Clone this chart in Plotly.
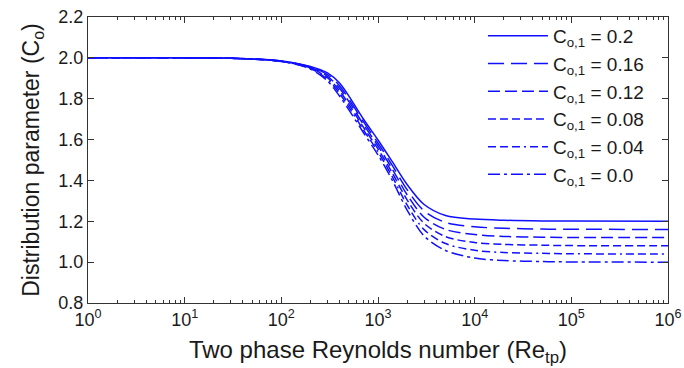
import plotly.graph_objects as go

# Two-phase Reynolds number sample points
re_tp = [1, 10, 30, 100, 200, 300, 400, 500, 700, 1000, 1400, 2000, 3000,
         5000, 10000, 20000, 50000, 100000, 1000000]

# Distribution parameter curves
co_020 = [2.000, 2.000, 1.998, 1.985, 1.958, 1.926, 1.877, 1.813, 1.703, 1.598,
          1.493, 1.380, 1.282, 1.228, 1.211, 1.205, 1.202, 1.201, 1.200]
co_016 = [2.000, 2.000, 1.998, 1.984, 1.955, 1.918, 1.864, 1.799, 1.690, 1.583,
          1.475, 1.355, 1.251, 1.194, 1.173, 1.166, 1.162, 1.161, 1.160]
co_012 = [2.000, 2.000, 1.998, 1.984, 1.953, 1.910, 1.851, 1.786, 1.677, 1.569,
          1.457, 1.330, 1.220, 1.160, 1.135, 1.126, 1.122, 1.121, 1.120]
co_008 = [2.000, 2.000, 1.998, 1.983, 1.950, 1.903, 1.839, 1.772, 1.663, 1.554,
          1.438, 1.305, 1.190, 1.125, 1.096, 1.087, 1.083, 1.081, 1.080]
co_004 = [2.000, 2.000, 1.998, 1.983, 1.948, 1.895, 1.826, 1.759, 1.650, 1.540,
          1.420, 1.280, 1.159, 1.091, 1.058, 1.047, 1.043, 1.041, 1.040]
co_000 = [2.000, 2.000, 1.998, 1.982, 1.945, 1.887, 1.813, 1.745, 1.637, 1.525,
          1.402, 1.255, 1.128, 1.057, 1.020, 1.008, 1.003, 1.001, 1.000]

series_names = ["C<sub>o,1</sub> = 0.2", "C<sub>o,1</sub> = 0.16", "C<sub>o,1</sub> = 0.12",
                "C<sub>o,1</sub> = 0.08", "C<sub>o,1</sub> = 0.04", "C<sub>o,1</sub> = 0.0"]
series_vals = [co_020, co_016, co_012, co_008, co_004, co_000]
dashes = ["solid", "16px,7px", "12px,5px", "8px,4px",
          "8px,4px,8px,4px,8px,4px,2px,4px", "12px,4px,3px,4px"]

x_tickvals = [1, 10, 100, 1000, 10000, 100000, 1000000]
x_ticktext = ["10<sup>0</sup>", "10<sup>1</sup>", "10<sup>2</sup>", "10<sup>3</sup>",
              "10<sup>4</sup>", "10<sup>5</sup>", "10<sup>6</sup>"]
minor_vals = [m * 10 ** k for k in range(6) for m in range(2, 10)]

BLUE = "#1010ff"
FONT = "Liberation Sans, Arial, sans-serif"

fig = go.Figure()
for i, (name, vals, dash) in enumerate(zip(series_names, series_vals, dashes)):
    fig.add_trace(go.Scatter(
        x=re_tp, y=vals, mode="lines", name=name, legendgroup=f"g{i}",
        line=dict(color=BLUE, width=1.5, dash=dash, shape="spline", smoothing=0.9),
    ))

fig.update_layout(
    width=684, height=368,
    margin=dict(l=88, r=16, t=17, b=65, autoexpand=False),
    paper_bgcolor="white", plot_bgcolor="white",
    font=dict(family=FONT, size=18, color="#1a1a1a"),
    showlegend=True,
    legend=dict(x=0.681, y=1.0, xanchor="left", yanchor="top",
                bgcolor="rgba(0,0,0,0)", borderwidth=0,
                font=dict(size=19), tracegroupgap=0, itemwidth=60),
    xaxis=dict(
        type="log", range=[0, 6], automargin=False,
        tickmode="array", tickvals=x_tickvals, ticktext=x_ticktext,
        ticks="inside", ticklen=6, tickwidth=1, tickcolor="#333",
        minor=dict(tickmode="array", tickvals=minor_vals, ticks="inside",
                   ticklen=3, tickwidth=1, tickcolor="#333"),
        showline=True, linecolor="#333", linewidth=1, mirror="ticks",
        showgrid=False, zeroline=False,
        title=dict(text="Two phase Reynolds number (Re<sub>tp</sub>)",
                   font=dict(size=24), standoff=12),
        tickfont=dict(size=18),
    ),
    yaxis=dict(
        range=[0.8, 2.2], automargin=False,
        tickmode="linear", tick0=0.8, dtick=0.2, tickformat=".1f",
        ticks="inside", ticklen=6, tickwidth=1, tickcolor="#333",
        showline=True, linecolor="#333", linewidth=1, mirror="ticks",
        showgrid=False, zeroline=False,
        title=dict(text="Distribution parameter (C<sub>o</sub>)",
                   font=dict(size=23), standoff=12),
        tickfont=dict(size=18),
    ),
)

fig.write_html("out.html")
